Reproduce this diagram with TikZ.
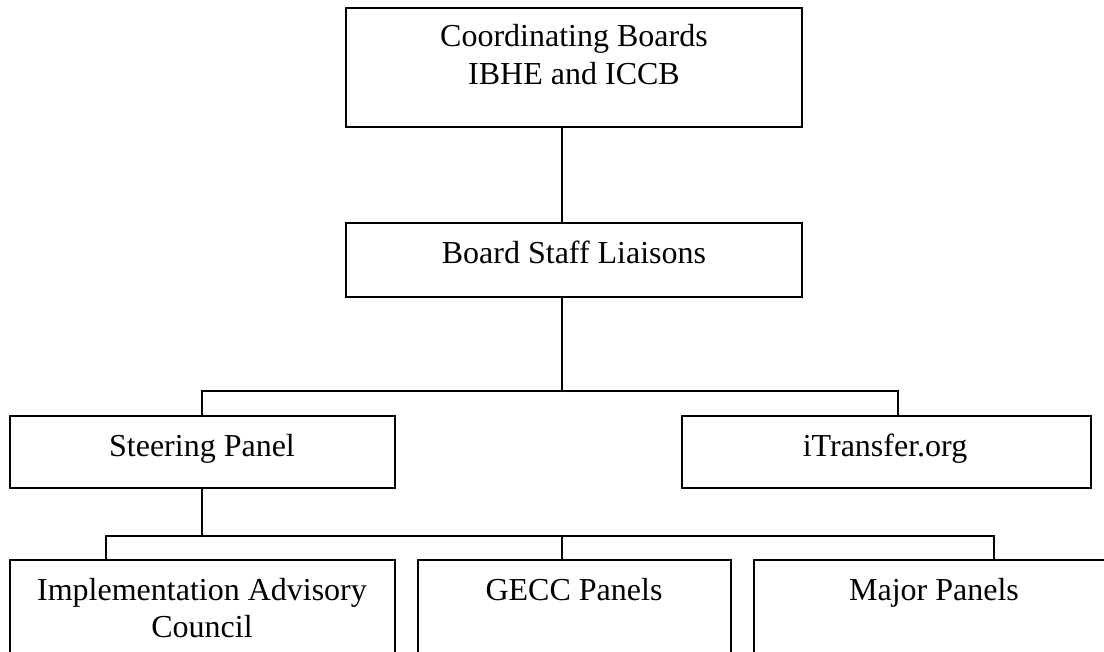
\documentclass[tikz,border=0pt]{standalone}
\usepackage{fontspec}
\setmainfont{Liberation Serif}
\usetikzlibrary{fit}
\begin{document}
\begin{tikzpicture}[x=0.5pt,y=-0.5pt,line width=0.9pt,
  box/.style={draw,inner sep=0pt},
  lbl/.style={font=\fontsize{16}{19}\selectfont,inner sep=0pt,anchor=base}]
\useasboundingbox (0,0) rectangle (1104,652);
\clip (0,0) rectangle (1104,652);
\fill[white] (0,0) rectangle (1104,652);
% boxes
\node[box,fit={(346,8) (802,127)}] (top) {};
\node[box,fit={(346,223) (802,297)}] (bsl) {};
\node[box,fit={(10,416) (395,488)}] (steer) {};
\node[box,fit={(682,416) (1091,488)}] (itr) {};
\node[box,fit={(10,560) (395,690)}] (iac) {};
\node[box,fit={(418,560) (731,690)}] (gecc) {};
\node[box,fit={(754,560) (1114,690)}] (major) {};
% labels
\node[lbl] (topT1) at (574,47) {Coordinating Boards};
\node[lbl] (topT2) at (574,85) {IBHE and ICCB};
\node[lbl] (bslT) at (574,264) {Board Staff Liaisons};
\node[lbl] (steerT) at (202,457) {Steering Panel};
\node[lbl] (itrT) at (885,457) {iTransfer.org};
\node[lbl] (iacT1) at (202,600) {Implementation Advisory};
\node[lbl] (iacT2) at (202,637) {Council};
\node[lbl] (geccT) at (574,600) {GECC Panels};
\node[lbl] (majorT) at (934,600) {Major Panels};
% connector junctions
\coordinate (m) at (562,391);
\coordinate (h1L) at (202,391);
\coordinate (h1R) at (898,391);
\coordinate (h2) at (202,536);
\coordinate (h2L) at (106,536);
\coordinate (h2M) at (562,536);
\coordinate (h2R) at (994,536);
% connectors
\draw (top.south -| m) -- (bsl.north -| m);
\draw (bsl.south -| m) -- (m);
\draw (steer.north -| h1L) -- (h1L) -- (h1R) -- (itr.north -| h1R);
\draw (steer.south -| h2) -- (h2);
\draw (iac.north -| h2L) -- (h2L) -- (h2R) -- (major.north -| h2R);
\draw (h2M) -- (gecc.north -| h2M);
\end{tikzpicture}
\end{document}
